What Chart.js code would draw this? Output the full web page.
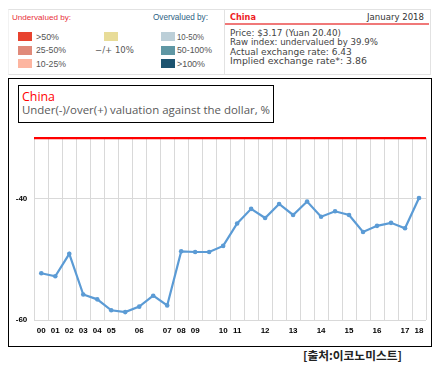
<!DOCTYPE html>
<html>
<head>
<meta charset="utf-8">
<script src="https://cdn.jsdelivr.net/npm/chart.js@4.4.1/dist/chart.umd.min.js"></script>
<style>
  html, body { margin: 0; padding: 0; background: #fff; }
  body { width: 443px; height: 369px; position: relative; overflow: hidden; }
  .abs { position: absolute; }
  .t { position: absolute; white-space: nowrap; line-height: 12px; height: 12px; }
  .sw { position: absolute; width: 14px; height: 9px; }
  .lg { font-family: "Liberation Sans", Arial, sans-serif; font-size: 8.5px; color: #555; }
  .lv { font-family: "Liberation Sans", Arial, sans-serif; font-size: 9.6px; color: #555; transform-origin: 0 50%; }
  .vd { font-family: "DejaVu Sans", Verdana, sans-serif; font-size: 9px; color: #444; }
</style>
</head>
<body>
<!-- header panel -->
<div class="abs" style="left:8px;top:9px;width:421px;height:64px;border:1px solid #e2e2e2;border-left-color:#f2f2f2;"></div>
<div class="abs" style="left:224px;top:10px;width:1px;height:64px;background:#e2e2e2;"></div>
<div class="abs" style="left:225px;top:23px;width:204px;height:2px;background:#f07878;"></div>

<div class="t lg" data-w="59" style="left:12px;top:12px;color:#e8303a;">Undervalued by:</div>
<div class="t lg" data-w="55" style="left:153px;top:12px;color:#2d6283;">Overvalued by:</div>

<div class="sw" style="left:18px;top:32px;background:#e8432f;"></div>
<div class="sw" style="left:18px;top:46px;background:#e08a7a;"></div>
<div class="sw" style="left:18px;top:59px;background:#fdb5a0;"></div>
<div class="t lv" data-sx="23" style="left:36px;top:30.5px;">&gt;50%</div>
<div class="t lv" data-sx="30" style="left:36px;top:44px;">25-50%</div>
<div class="t lv" data-sx="30" style="left:36px;top:57.5px;">10-25%</div>

<div class="sw" style="left:104px;top:32px;background:#e8dc98;"></div>
<div class="t vd" data-w="39" style="left:95px;top:43.5px;color:#555;">−/+ 10%</div>

<div class="sw" style="left:161px;top:32px;background:#bccfd8;"></div>
<div class="sw" style="left:161px;top:46px;background:#5f97a4;"></div>
<div class="sw" style="left:161px;top:59px;background:#1d5470;"></div>
<div class="t lv" data-sx="27" style="left:177px;top:30.5px;">10-50%</div>
<div class="t lv" data-sx="35" style="left:177px;top:44px;">50-100%</div>
<div class="t lv" data-sx="28" style="left:177px;top:57.5px;">&gt;100%</div>

<div class="t vd" data-w="26" style="left:230px;top:11px;color:#ee1c25;font-weight:bold;">China</div>
<div class="t vd" data-w="57" data-r="424" style="left:367px;top:11px;color:#333;">January 2018</div>
<div class="t vd" data-w="111" style="left:230px;top:27.3px;">Price: $3.17 (Yuan 20.40)</div>
<div class="t vd" data-w="148" style="left:230px;top:36.3px;">Raw index: undervalued by 39.9%</div>
<div class="t vd" data-w="122" style="left:230px;top:45.7px;">Actual exchange rate: 6.43</div>
<div class="t vd" data-w="137" style="left:230px;top:55px;">Implied exchange rate*: 3.86</div>

<!-- chart box -->
<div class="abs" style="left:8px;top:78px;width:422px;height:267px;border:1px solid #000;"></div>
<div class="abs" style="left:18px;top:85px;width:254px;height:36px;border:1px solid #000;"></div>
<div class="t" data-w="33" style="left:22px;top:90px;line-height:14px;height:14px;font-family:'Open Sans',sans-serif;font-size:13px;color:#ff0000;">China</div>
<div class="t" data-w="248" style="left:22px;top:103px;line-height:14px;height:14px;font-family:'Open Sans',sans-serif;font-size:11px;color:#595959;">Under(-)/over(+) valuation against the dollar, %</div>

<div class="abs" style="left:9px;top:126px;width:421px;height:219px;">
  <canvas id="c"></canvas>
</div>

<div class="t" data-w="99" style="left:303px;top:348px;line-height:14px;height:14px;font-family:'Noto Sans CJK KR',sans-serif;font-weight:bold;font-size:11px;color:#222;">[출처:이코노미스트]</div>

<script>
// ---- data ----
const yearLabels = ['00','01','02','03','04','05','','06','','07','08','09','','10','11','','12','','13','','14','','15','','16','','17','18'];
const valuation = [-52.3,-52.8,-49.1,-55.8,-56.6,-58.4,-58.7,-57.8,-56.0,-57.6,-48.7,-48.8,-48.8,-47.8,-44.1,-41.7,-43.2,-40.9,-42.7,-40.5,-43.0,-42.1,-42.7,-45.5,-44.5,-44.0,-44.9,-39.9];
const yTickValues = [-60, -40];
const yMin = -60;
const yTop = -30;   // red reference line at top of plot

// fit header texts to measured widths
document.querySelectorAll('[data-w]').forEach(el => {
  const target = parseFloat(el.dataset.w);
  const w = el.getBoundingClientRect().width;
  const fs = parseFloat(getComputedStyle(el).fontSize);
  if (w > 0) el.style.fontSize = (fs * target / w).toFixed(2) + 'px';
  if (el.dataset.r) {
    const w2 = el.getBoundingClientRect().width;
    el.style.left = (parseFloat(el.dataset.r) - w2) + 'px';
  }
});
// condensed legend labels: keep height, squeeze width
document.querySelectorAll('[data-sx]').forEach(el => {
  const target = parseFloat(el.dataset.sx);
  const w = el.getBoundingClientRect().width;
  if (w > 0) el.style.transform = 'scaleX(' + (target / w).toFixed(3) + ')';
});

new Chart(document.getElementById('c'), {
  type: 'line',
  data: {
    labels: yearLabels,
    datasets: [{
      data: valuation,
      borderColor: '#5b9bd5',
      backgroundColor: '#5b9bd5',
      borderWidth: 2.2,
      pointRadius: 2.3,
      pointBorderWidth: 0,
      tension: 0
    }]
  },
  options: {
    responsive: true,
    maintainAspectRatio: false,
    animation: false,
    layout: { padding: { top: 10, right: 2.3, left: 0, bottom: 0 } },
    plugins: { legend: { display: false }, tooltip: { enabled: false } },
    scales: {
      x: {
        offset: true,
        grid: { offset: true, color: '#d9d9d9', lineWidth: 1, drawTicks: false },
        border: { display: false },
        ticks: {
          autoSkip: false, maxRotation: 0, padding: 6,
          color: '#000', font: { family: 'Liberation Sans', weight: 'bold', size: 8 }
        },
        afterFit: s => { s.height = 25; }
      },
      y: {
        min: yMin, max: yTop,
        afterBuildTicks: s => { s.ticks = yTickValues.concat([yTop]).map(v => ({ value: v })); },
        grid: {
          drawTicks: false,
          color: c => (c.tick && c.tick.value === yTop) ? '#ff0000' : '#d9d9d9',
          lineWidth: c => (c.tick && c.tick.value === yTop) ? 2.3 : 1
        },
        border: { display: false },
        ticks: {
          padding: 7, color: '#000',
          font: { family: 'Liberation Sans', weight: 'bold', size: 8 },
          callback: v => (v === yTop ? '' : v)
        },
        afterFit: s => { s.width = 25.3; }
      }
    }
  }
});
</script>
</body>
</html>
